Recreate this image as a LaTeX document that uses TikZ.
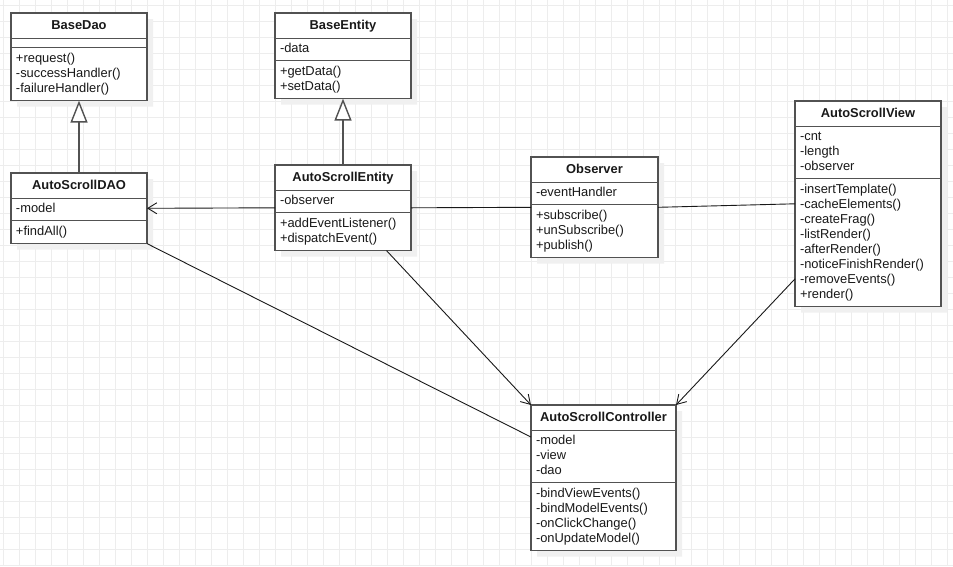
\documentclass[tikz,border=0pt]{standalone}
\usepackage{fontspec}
\setmainfont{Liberation Sans}
\usetikzlibrary{shapes.multipart,arrows.meta,shadows,calc}

\newcommand{\members}[2]{\parbox{#1}{\raggedright\strut#2\strut}}
\newcommand{\classname}[2]{\makebox[#1]{\rule[-4.5pt]{0pt}{17.5pt}\textbf{#2}}}

\begin{document}
\begin{tikzpicture}[x=1pt,y=-1pt,
  umlclass/.style={draw=black!68,line width=1.1pt,fill=white,rectangle split,rectangle split parts=3,
    inner xsep=5pt,inner ysep=3.3pt,outer sep=0pt,anchor=north west,text=black!90,
    font=\fontsize{12.9}{15}\selectfont,
    drop shadow={shadow xshift=6pt,shadow yshift=-6pt,fill=black!6,opacity=1}},
  gridline/.style={black!7,line width=1pt},
  inherit/.style={draw=black!68,line width=1.4pt,-{Triangle[length=22pt,width=17pt,fill=white]}},
  assoc/.style={draw=black!90,line width=0.9pt},
  navig/.style={assoc,-{Straight Barb[length=9pt,width=11pt]}}
]
  \useasboundingbox (0,0) rectangle (953,566);
  \fill[white] (0,0) rectangle (953,566);
  % background grid
  \foreach \gx in {3,19,...,947} \draw[gridline] (\gx,0) -- (\gx,566);
  \foreach \gy in {5,21,...,565} \draw[gridline] (0,\gy) -- (953,\gy);

  % classes
  \node[umlclass] (basedao) at (11,13) {\classname{126pt}{BaseDao}
    \nodepart{two}\rule{0pt}{2pt}
    \nodepart{three}\members{126pt}{+request()\\-successHandler()\\-failureHandler()}};
  \node[umlclass] (baseentity) at (275,13) {\classname{126pt}{BaseEntity}
    \nodepart{two}\members{126pt}{-data}
    \nodepart{three}\members{126pt}{+getData()\\+setData()}};
  \node[umlclass] (dao) at (11,173) {\classname{126pt}{AutoScrollDAO}
    \nodepart{two}\members{126pt}{-model}
    \nodepart{three}\members{126pt}{+findAll()}};
  \node[umlclass] (entity) at (275,165) {\classname{126pt}{AutoScrollEntity}
    \nodepart{two}\members{126pt}{-observer}
    \nodepart{three}\members{126pt}{+addEventListener()\\+dispatchEvent()}};
  \node[umlclass] (observer) at (531,157) {\classname{117pt}{Observer}
    \nodepart{two}\members{117pt}{-eventHandler}
    \nodepart{three}\members{117pt}{+subscribe()\\+unSubscribe()\\+publish()}};
  \node[umlclass] (view) at (795,101) {\classname{136pt}{AutoScrollView}
    \nodepart{two}\members{136pt}{-cnt\\-length\\-observer}
    \nodepart{three}\members{136pt}{-insertTemplate()\\-cacheElements()\\-createFrag()\\-listRender()\\-afterRender()\\-noticeFinishRender()\\-removeEvents()\\+render()}};
  \node[umlclass] (ctrl) at (531,405) {\classname{135pt}{AutoScrollController}
    \nodepart{two}\members{135pt}{-model\\-view\\-dao}
    \nodepart{three}\members{135pt}{-bindViewEvents()\\-bindModelEvents()\\-onClickChange()\\-onUpdateModel()}};

  % relations
  \draw[inherit] (dao.north) -- (basedao.south);
  \draw[inherit] (entity.north) -- (baseentity.south);
  \draw[navig] (entity.west) -- (dao.east);
  \draw[assoc] (entity.east) -- (observer.west);
  \draw[assoc] (observer.east) -- (view.west);
  \draw[assoc] (dao.south east) -- ($(ctrl.north west)!0.22!(ctrl.south west)$);
  \draw[navig] ($(entity.south west)!0.82!(entity.south east)$) -- (ctrl.north west);
  \draw[navig] ($(view.north west)!0.865!(view.south west)$) -- (ctrl.north east);
\end{tikzpicture}
\end{document}
